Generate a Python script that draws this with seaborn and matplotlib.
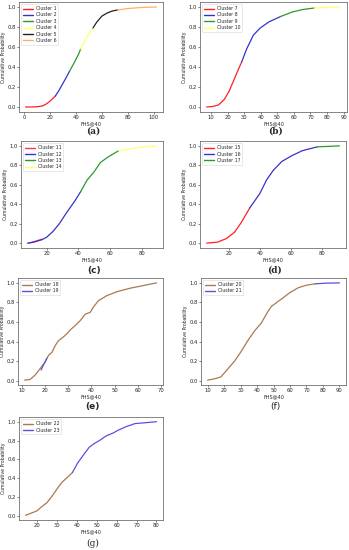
import matplotlib
matplotlib.use("Agg")
import matplotlib.pyplot as plt
import seaborn as sns
import pandas as pd

sns.set_style("ticks")
plt.rcParams['font.family'] = ['DejaVu Sans']

# ---------------- data ----------------
# panel (a)
a_c1_x = [1, 5, 10, 14, 17, 20, 22, 24]
a_c1_y = [0.0, 0.0, 0.003, 0.01, 0.03, 0.06, 0.085, 0.11]
a_c2_x = [24, 27, 30, 33, 35]
a_c2_y = [0.11, 0.17, 0.24, 0.31, 0.36]
a_c3_x = [35, 38, 40, 42, 43.5]
a_c3_y = [0.36, 0.43, 0.48, 0.53, 0.58]
a_c4_x = [43.5, 46, 48, 50, 53]
a_c4_y = [0.58, 0.64, 0.69, 0.73, 0.79]
a_c5_x = [53, 56, 60, 64, 68, 72]
a_c5_y = [0.79, 0.85, 0.91, 0.94, 0.96, 0.97]
a_c6_x = [72, 76, 80, 85, 90, 96, 102]
a_c6_y = [0.97, 0.978, 0.985, 0.99, 0.995, 0.998, 1.0]

# panel (b)
b_c7_x = [7.4, 11, 14.5, 18, 21, 24.3, 27.4, 28.5]
b_c7_y = [0.0, 0.005, 0.02, 0.075, 0.16, 0.29, 0.41, 0.45]
b_c8_x = [28.5, 31.5, 35.6, 39.7, 44.8, 52]
b_c8_y = [0.45, 0.58, 0.72, 0.79, 0.85, 0.905]
b_c9_x = [52, 59, 65.4, 72.3]
b_c9_y = [0.905, 0.95, 0.975, 0.99]
b_c10_x = [72.3, 80, 88]
b_c10_y = [0.99, 0.995, 1.0]

# panel (c)
c_c11_x = [9, 11, 14, 17]
c_c11_y = [0.0, 0.01, 0.025, 0.04]
c_c12_x = [8, 12, 17, 20, 24, 28, 32, 35, 38, 41.4]
c_c12_y = [0.0, 0.01, 0.035, 0.06, 0.12, 0.2, 0.3, 0.37, 0.44, 0.53]
c_c13_x = [41.4, 45.5, 49.7, 53.8, 59, 65.2]
c_c13_y = [0.53, 0.65, 0.73, 0.83, 0.89, 0.95]
c_c14_x = [65.2, 74.5, 82, 89]
c_c14_y = [0.95, 0.975, 0.99, 1.0]

# panel (d)
d_c15_x = [5.3, 12.3, 17.8, 23.3, 27.7, 31, 33.2]
d_c15_y = [0.0, 0.01, 0.045, 0.11, 0.21, 0.3, 0.36]
d_c16_x = [33.2, 39.8, 44.2, 48.6, 54.1, 60.7, 67.3, 77.1]
d_c16_y = [0.36, 0.51, 0.65, 0.75, 0.84, 0.9, 0.95, 0.99]
d_c17_x = [77.1, 85, 91.4]
d_c17_y = [0.99, 0.995, 1.0]

# panel (e)
e_c18_x = [11.2, 13.6, 15.8, 17.9, 20, 21.5, 23, 24.4, 25.8, 28, 29.4, 30.9,
           33, 35.2, 37.3, 39.5, 40.9, 43.1, 46.7, 51, 56.8, 62.5, 68]
e_c18_y = [0.007, 0.014, 0.06, 0.125, 0.19, 0.26, 0.29, 0.36, 0.41, 0.45, 0.48, 0.52,
           0.565, 0.615, 0.68, 0.7, 0.755, 0.82, 0.87, 0.91, 0.946, 0.973, 1.0]
e_c19_x = [18.3, 19.5, 20.8]
e_c19_y = [0.11, 0.17, 0.23]

# panel (f)
f_c20_x = [10, 15.1, 18.1, 22.2, 26.3, 30.4, 34.4, 38.5, 42.6, 46.7, 48.7, 52.8,
           56.8, 59.9, 65, 70, 75.2]
f_c20_y = [0.007, 0.024, 0.04, 0.12, 0.2, 0.3, 0.41, 0.51, 0.59, 0.71, 0.76, 0.81,
           0.86, 0.9, 0.95, 0.976, 0.99]
f_c21_x = [75.2, 82, 90]
f_c21_y = [0.99, 0.997, 1.0]

# panel (g)
g_c22_x = [14.3, 20, 22.5, 25, 27.6, 30.2, 32.7, 35.3, 37.8]
g_c22_y = [0.007, 0.054, 0.1, 0.14, 0.21, 0.29, 0.36, 0.41, 0.46]
g_c23_x = [37.8, 40.4, 43.8, 46.3, 48.9, 51.4, 54.8, 58.3, 60.8, 65.1, 69.3, 75, 80]
g_c23_y = [0.46, 0.56, 0.66, 0.73, 0.77, 0.8, 0.85, 0.88, 0.91, 0.95, 0.98, 0.99, 1.0]

RED, BLUE, GREEN, YELLOW, BLACK, ORANGE = "#ff2020", "#3333cc", "#2a9a2a", "#ffff70", "#222222", "#ffb060"
BROWN, SLATE = "#a87a50", "#5b4fe0"

panels = [
    ("(a)", (19, 2, 163, 112), 131, "serif", "bold",
     [("Cluster 1", a_c1_x, a_c1_y, RED), ("Cluster 2", a_c2_x, a_c2_y, BLUE),
      ("Cluster 3", a_c3_x, a_c3_y, GREEN), ("Cluster 4", a_c4_x, a_c4_y, YELLOW),
      ("Cluster 5", a_c5_x, a_c5_y, BLACK), ("Cluster 6", a_c6_x, a_c6_y, ORANGE)], [0, 20, 40, 60, 80, 100]),
    ("(b)", (200, 2, 347, 112), 131, "serif", "bold",
     [("Cluster 7", b_c7_x, b_c7_y, RED), ("Cluster 8", b_c8_x, b_c8_y, BLUE),
      ("Cluster 9", b_c9_x, b_c9_y, GREEN), ("Cluster 10", b_c10_x, b_c10_y, YELLOW)],
     [10, 20, 30, 40, 50, 60, 70, 80, 90]),
    ("(c)", (21, 141, 163, 248), 270, "sans-serif", "bold",
     [("Cluster 11", c_c11_x, c_c11_y, "#ff3060"), ("Cluster 12", c_c12_x, c_c12_y, BLUE),
      ("Cluster 13", c_c13_x, c_c13_y, GREEN), ("Cluster 14", c_c14_x, c_c14_y, YELLOW)], [20, 40, 60, 80]),
    ("(d)", (200, 141, 346, 248), 270, "serif", "bold",
     [("Cluster 15", d_c15_x, d_c15_y, RED), ("Cluster 16", d_c16_x, d_c16_y, BLUE),
      ("Cluster 17", d_c17_x, d_c17_y, GREEN)], [20, 40, 60, 80]),
    ("(e)", (18, 278, 163, 385), 407, "sans-serif", "bold",
     [("Cluster 18", e_c18_x, e_c18_y, BROWN), ("Cluster 19", e_c19_x, e_c19_y, SLATE)],
     [10, 20, 30, 40, 50, 60, 70]),
    ("(f)", (201, 278, 346, 385), 407, "sans-serif", "normal",
     [("Cluster 20", f_c20_x, f_c20_y, BROWN), ("Cluster 21", f_c21_x, f_c21_y, SLATE)],
     [10, 20, 30, 40, 50, 60, 70, 80, 90]),
    ("(g)", (19, 417, 163, 520), 543, "serif", "normal",
     [("Cluster 22", g_c22_x, g_c22_y, BROWN), ("Cluster 23", g_c23_x, g_c23_y, SLATE)],
     [20, 30, 40, 50, 60, 70, 80]),
]

W, H = 349, 550
fig = plt.figure(figsize=(W / 100, H / 100), dpi=100)

for cap, (x0, y0, x1, y1), cy, cfam, cweight, series, xt in panels:
    ax = fig.add_axes([x0 / W, 1 - y1 / H, (x1 - x0) / W, (y1 - y0) / H])
    for name, xs, ys, col in series:
        df = pd.DataFrame({"x": xs, "y": ys})
        sns.lineplot(data=df, x="x", y="y", color=col, label=name, ax=ax,
                     sort=False, estimator=None, linewidth=0.9)
    ax.set_xticks(xt)
    ax.set_yticks([0.0, 0.2, 0.4, 0.6, 0.8, 1.0])
    ax.set_yticklabels(["0.0", "0.2", "0.4", "0.6", "0.8", "1.0"])
    ax.tick_params(labelsize=3.8, length=1.5, width=0.4, pad=1)
    ax.set_xlabel("FHS@40", fontsize=3.5, labelpad=0.5)
    ax.set_ylabel("Cumulative Probability", fontsize=3.3, labelpad=1)
    for s in ax.spines.values():
        s.set_linewidth(0.5)
        s.set_color("#555555")
    leg = ax.legend(loc="upper left", fontsize=3.3, frameon=True, handlelength=2.2,
                    borderpad=0.4, labelspacing=0.3, handletextpad=0.6)
    leg.get_frame().set_linewidth(0.4)
    for l in leg.get_lines():
        l.set_linewidth(1.0)
    cx = (x0 + x1) / 2 + 2
    fig.text(cx / W, 1 - cy / H, cap, ha="center", va="center", fontsize=6.5,
             family=cfam, fontweight=cweight)

fig.savefig("out.png", dpi=100)
